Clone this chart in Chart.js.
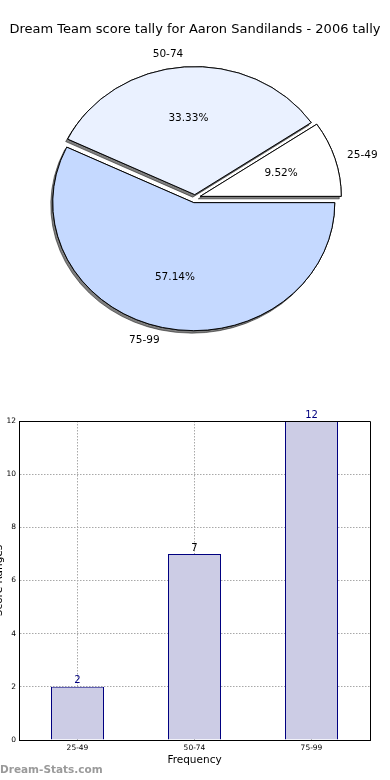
<!DOCTYPE html>
<html><head><meta charset="utf-8">
<script src="https://cdn.jsdelivr.net/npm/chart.js@4.4.1/dist/chart.umd.min.js"></script>
<style>
html,body{margin:0;padding:0;background:#fff;width:390px;height:780px;overflow:hidden;position:relative;}
#pie{position:absolute;left:0;top:0;}
#bar{position:absolute;left:-7px;top:390px;}
#wm{position:absolute;left:0;top:763px;font:bold 10.5px "DejaVu Sans";color:#9a9a9a;white-space:nowrap;}
</style></head><body>
<canvas id="pie" width="390" height="390"></canvas>
<canvas id="bar" width="397" height="390"></canvas>
<div id="wm">Dream-Stats.com</div>
<script>
// ---- data ----
const chartTitle = 'Dream Team score tally for Aaron Sandilands - 2006 tally';
const categories = ['25-49', '50-74', '75-99'];
const tally = [2, 7, 12];
const yTicks = [0, 2, 4, 6, 8, 10, 12];
const xAxisTitle = 'Frequency';
const yAxisTitle = 'Score Ranges';

// ---- style ----
const pieColors = ['#ffffff', '#eaf1ff', '#c5d9ff'];
const pieExplode = [5.5, 3.5, 5.5];
const labelColors = ['#00007f', '#000000', '#00007f'];
const SY = 128 / 141;
const FONT = '"DejaVu Sans", sans-serif';

// pie order: clockwise from 3 o'clock = reverse of counter-clockwise order
const pieLabels = categories.slice().reverse();
const pieData = tally.slice().reverse();
const pieCols = pieColors.slice().reverse();
const pieExp = pieExplode.slice().reverse();

const baseArcDraw = Chart.ArcElement.prototype.draw;
Chart.ArcElement.prototype.draw = function (ctx, area) {
  const e = this.$explode || 0;
  if (!e) return baseArcDraw.call(this, ctx, area);
  const h = (this.startAngle + this.endAngle) / 2;
  ctx.save();
  ctx.translate(Math.cos(h) * e, Math.sin(h) * e);
  baseArcDraw.call(this, ctx, area);
  ctx.restore();
};

const pieLook = {
  id: 'pieLook',
  afterDatasetUpdate(chart) {
    chart.getDatasetMeta(0).data.forEach((a, i) => { a.$explode = pieExp[i]; });
  },
  beforeDatasetsDraw(chart) {
    const arcs = chart.getDatasetMeta(0).data;
    const a = arcs[0];
    const ctx = chart.ctx;
    ctx.save();
    ctx.translate(a.x, a.y); ctx.scale(1, SY); ctx.translate(-a.x, -a.y);
    // shadow pass: all shadows beneath all wedges
    ctx.save();
    ctx.shadowColor = 'rgba(0,0,0,0.5)';
    ctx.shadowOffsetX = -2; ctx.shadowOffsetY = 2.5; ctx.shadowBlur = 0;
    arcs.forEach(arc => arc.draw(ctx, chart.chartArea));
    ctx.restore();
  },
  afterDatasetsDraw(chart) {
    const ctx = chart.ctx;
    ctx.restore();
    const meta = chart.getDatasetMeta(0);
    const vals = chart.data.datasets[0].data;
    const tot = vals.reduce((s, v) => s + v, 0);
    ctx.save();
    ctx.font = '10.5px ' + FONT;
    ctx.fillStyle = '#000';
    ctx.textBaseline = 'middle';
    meta.data.forEach((a, i) => {
      const h = (a.startAngle + a.endAngle) / 2, e = a.$explode || 0, r = a.outerRadius;
      const c = Math.cos(h), s = Math.sin(h);
      ctx.textAlign = c < 0 ? 'right' : 'left';
      ctx.fillText(chart.data.labels[i], a.x + c * (e + 1.09 * r), a.y + s * (e + 1.1 * r) * SY);
      ctx.textAlign = 'center';
      ctx.fillText((vals[i] / tot * 100).toFixed(2) + '%', a.x + c * (e + 0.6 * r), a.y + s * (e + 0.6 * r) * SY);
    });
    ctx.restore();
  }
};

new Chart(document.getElementById('pie'), {
  type: 'pie',
  data: { labels: pieLabels, datasets: [{ data: pieData, backgroundColor: pieCols, borderColor: '#000', borderWidth: 1 }] },
  options: {
    responsive: false, animation: false, devicePixelRatio: 1,
    rotation: 90, radius: 141,
    layout: { padding: { left: 0, right: 0, top: 0, bottom: 32 } },
    plugins: {
      legend: { display: false }, tooltip: { enabled: false },
      title: { display: true, text: chartTitle, color: '#000', font: { family: FONT, size: 13, weight: 'normal', lineHeight: 1.2 }, padding: { top: 22, bottom: 0 } }
    }
  },
  plugins: [pieLook]
});

const barLook = {
  id: 'barLook',
  afterDraw(chart) {
    const ctx = chart.ctx, ca = chart.chartArea;
    ctx.save();
    ctx.strokeStyle = '#000'; ctx.lineWidth = 1;
    const L = Math.round(ca.left) + 0.5, R = Math.round(ca.right) + 0.5, T = Math.round(ca.top) + 0.5, B = Math.round(ca.bottom) + 0.5;
    ctx.beginPath(); ctx.moveTo(L, T); ctx.lineTo(R, T); ctx.lineTo(R, B); ctx.stroke();
    const meta = chart.getDatasetMeta(0);
    ctx.font = '10px ' + FONT; ctx.textAlign = 'center'; ctx.textBaseline = 'bottom';
    meta.data.forEach((b, i) => {
      ctx.fillStyle = labelColors[i];
      ctx.fillText(String(chart.data.datasets[0].data[i]), b.x, b.y - 1);
    });
    ctx.restore();
  }
};

new Chart(document.getElementById('bar'), {
  type: 'bar',
  data: { labels: categories, datasets: [{ data: tally, backgroundColor: '#ccccE5', borderColor: '#000080', borderWidth: 1, barPercentage: 1, categoryPercentage: 53 / 117 }] },
  options: {
    responsive: false, animation: false, devicePixelRatio: 1,
    layout: { padding: { top: 31, right: 20, left: 0, bottom: 0 } },
    plugins: { legend: { display: false }, tooltip: { enabled: false } },
    scales: {
      x: {
        z: 1,
        grid: { offset: false, color: '#a8a8a8', lineWidth: 1, drawTicks: false },
        border: { color: '#000', width: 1, dash: [1.5, 1.5] },
        ticks: { font: { family: FONT, size: 7.5 }, color: '#000', padding: 4, maxRotation: 0 },
        title: { display: true, text: xAxisTitle, color: '#000', font: { family: FONT, size: 10.5, lineHeight: 1.2 }, padding: { top: 0, bottom: 13 } },
        afterFit(s) { s.height = 40; }
      },
      y: {
        z: 1, min: yTicks[0], max: yTicks[yTicks.length - 1],
        afterBuildTicks(s) { s.ticks = yTicks.map(v => ({ value: v })); },
        grid: { color: '#a8a8a8', lineWidth: 1, drawTicks: false },
        border: { color: '#000', width: 1, dash: [1.5, 1.5] },
        ticks: { font: { family: FONT, size: 7.5 }, color: '#000', padding: 3 },
        title: { display: true, text: yAxisTitle, color: '#000', font: { family: FONT, size: 10.5, lineHeight: 1.2 }, padding: { top: 0, bottom: 0 } },
        afterFit(s) { s.width = 26; }
      }
    }
  },
  plugins: [barLook]
});
</script>
</body></html>
